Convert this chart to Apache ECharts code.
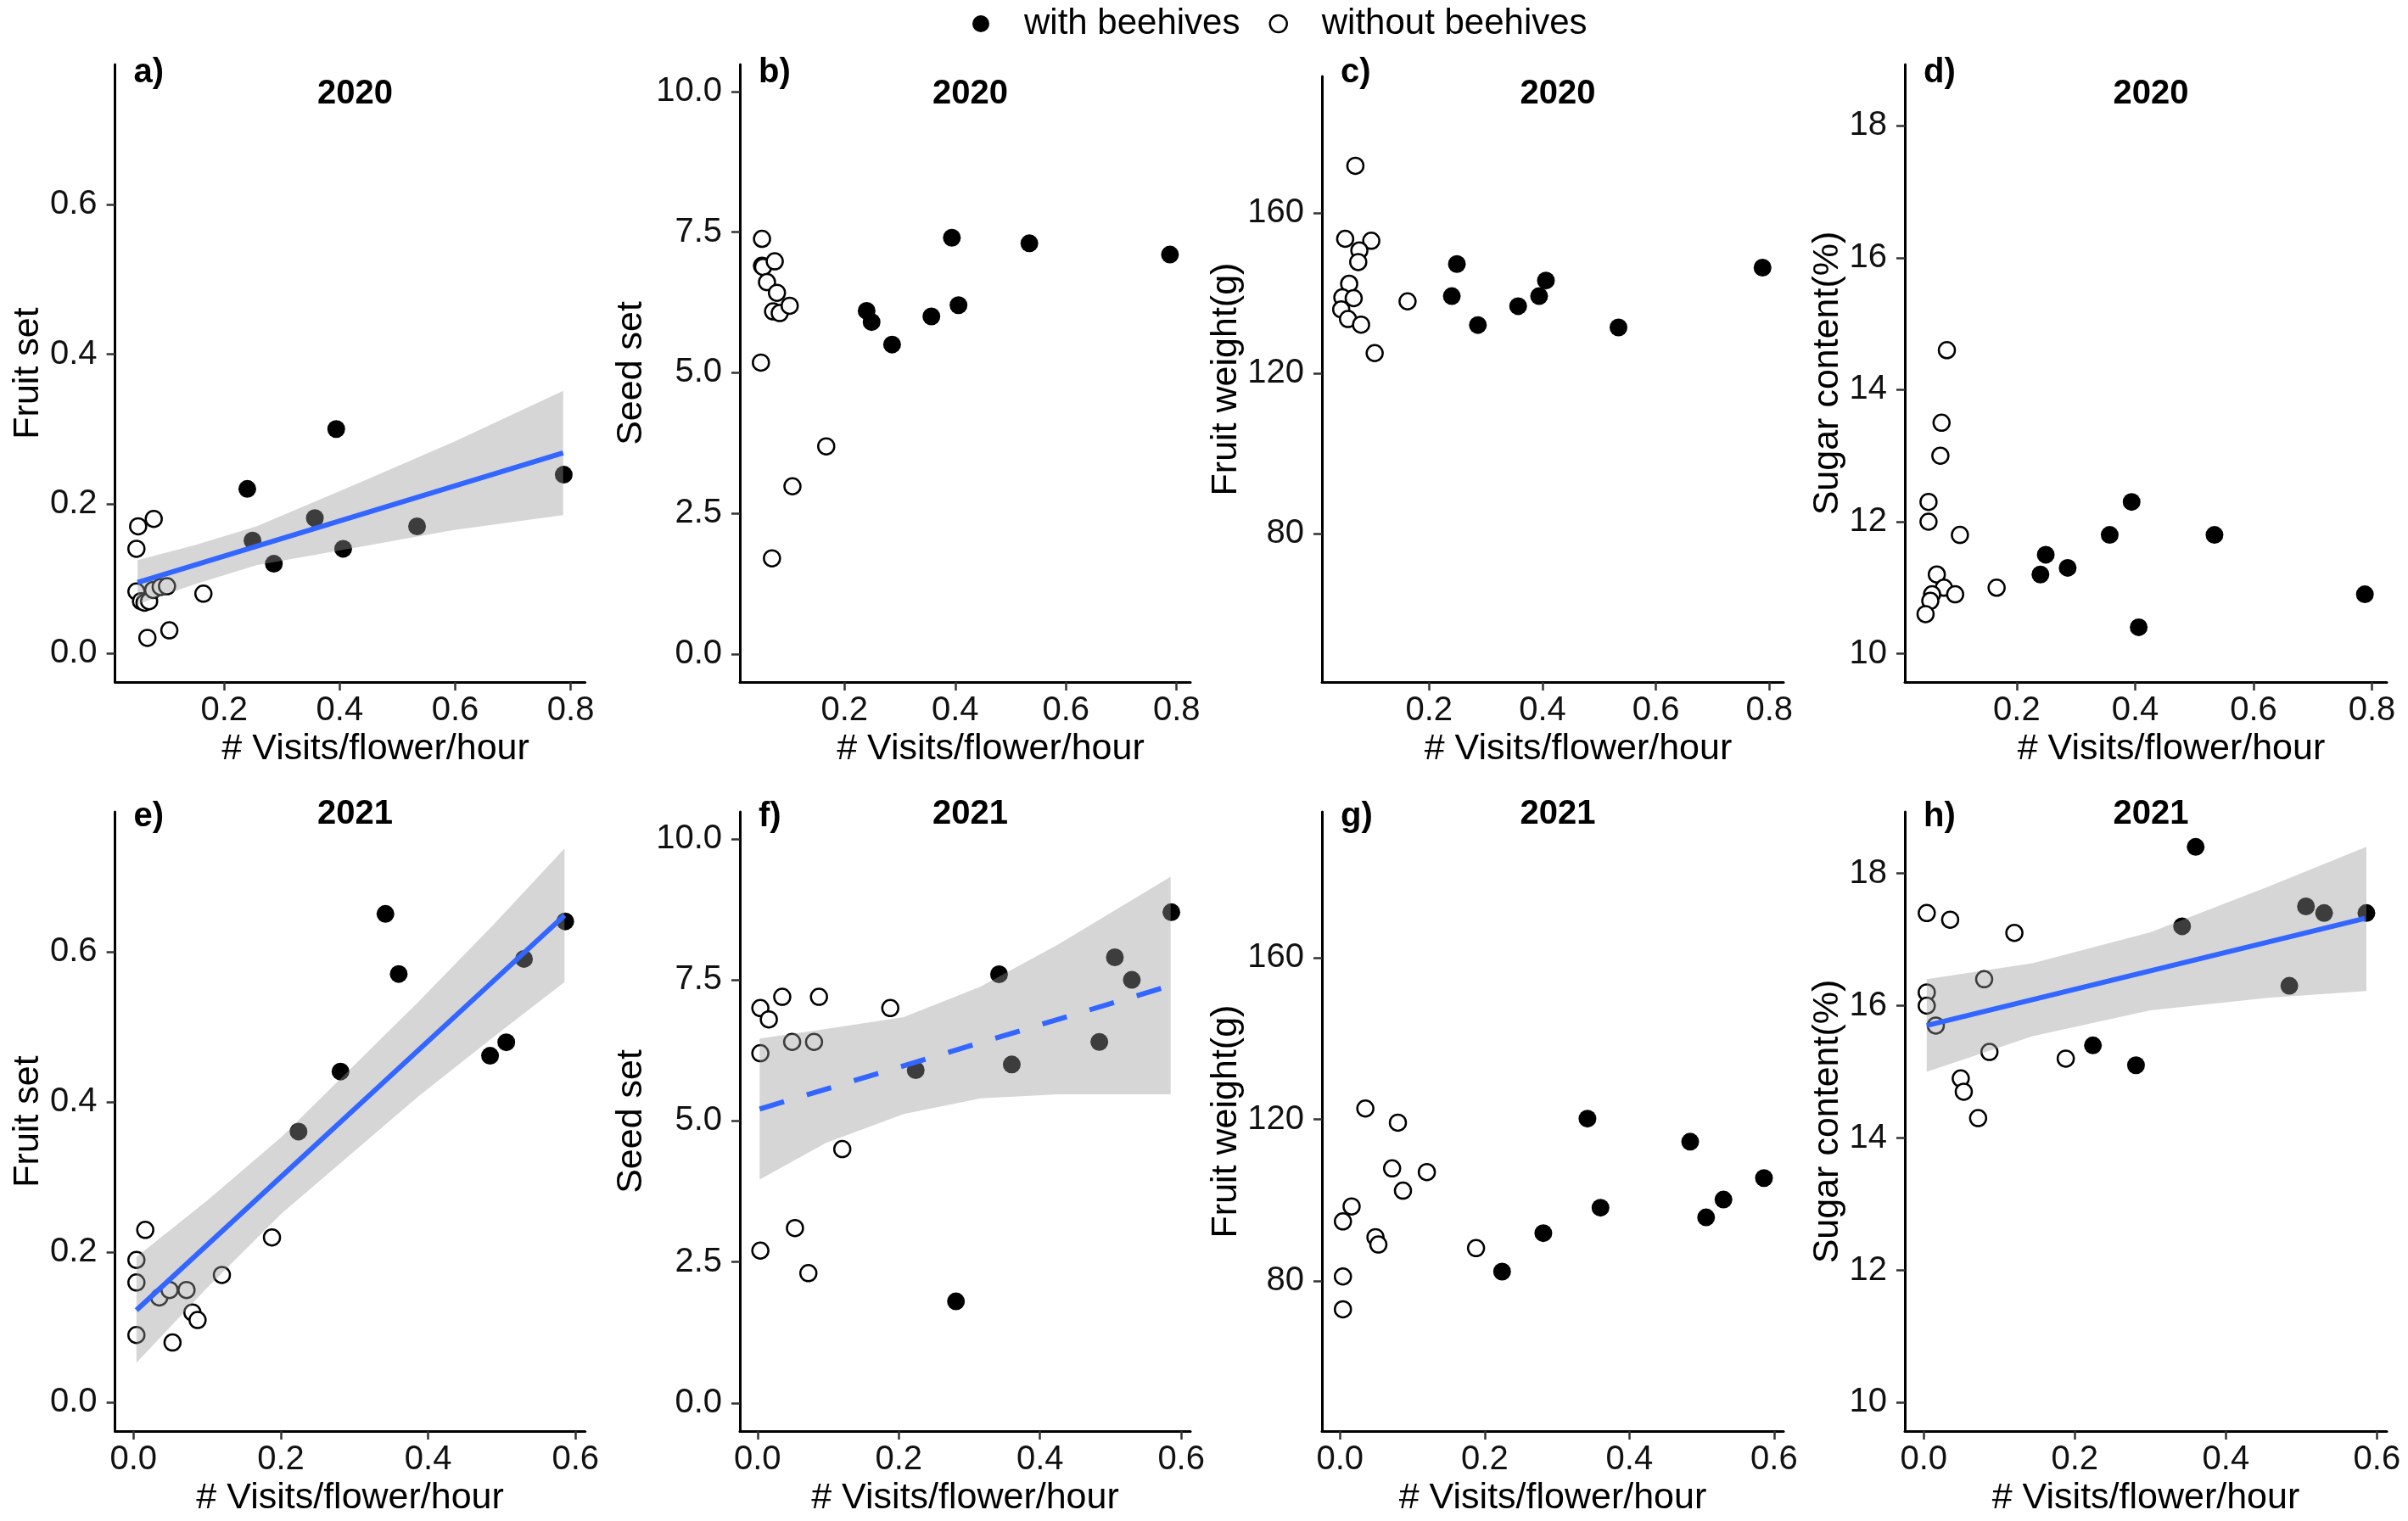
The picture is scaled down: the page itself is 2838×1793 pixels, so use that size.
<!DOCTYPE html>
<html>
<head>
<meta charset="utf-8">
<script src="https://cdn.jsdelivr.net/npm/echarts@6/dist/echarts.min.js"></script>
<style>
  html, body { margin: 0; padding: 0; background: #fff; }
  #chart { width: 2838px; height: 1793px; }
</style>
</head>
<body>
<div id="chart"></div>
<script>
// ---- data ----
// 2020, with beehives (same fields in every 2020 panel)
const withX2020 = [0.240, 0.249, 0.286, 0.357, 0.394, 0.406, 0.534, 0.788]
const fruitSetWith2020 = [0.220, 0.151, 0.120, 0.181, 0.300, 0.140, 0.170, 0.239]
const seedSetWith2020 = [6.1, 5.9, 5.5, 6.0, 7.4, 6.2, 7.3, 7.1]
const fruitWeightWith2020 = [139.2, 147.2, 132.0, 136.7, 139.2, 143.1, 131.4, 146.3]
const sugarWith2020 = [11.2, 11.5, 11.3, 11.8, 12.3, 10.4, 11.8, 10.9]

// 2020, without beehives (read per panel)
const fruitSetWithoutX2020 = [0.051, 0.078, 0.048, 0.164, 0.067, 0.105, 0.048, 0.056, 0.062, 0.070, 0.077, 0.090, 0.101]
const fruitSetWithout2020 = [0.170, 0.180, 0.140, 0.080, 0.021, 0.031, 0.083, 0.070, 0.068, 0.070, 0.085, 0.089, 0.090]
const seedSetWithoutX2020 = [0.051, 0.051, 0.053, 0.074, 0.060, 0.078, 0.071, 0.083, 0.101, 0.049, 0.167, 0.106, 0.069]
const seedSetWithout2020 = [7.38, 6.90, 6.88, 6.98, 6.61, 6.42, 6.09, 6.06, 6.19, 5.18, 3.69, 2.98, 1.70]
const fruitWeightWithoutX2020 = [0.070, 0.052, 0.098, 0.077, 0.075, 0.059, 0.047, 0.067, 0.045, 0.057, 0.080, 0.162, 0.104]
const fruitWeightWithout2020 = [171.7, 153.5, 153.0, 150.6, 147.7, 142.3, 138.9, 138.7, 135.9, 133.5, 132.1, 137.9, 125.0]
const sugarWithoutX2020 = [0.082, 0.073, 0.071, 0.051, 0.051, 0.104, 0.065, 0.077, 0.057, 0.054, 0.046, 0.096, 0.166]
const sugarWithout2020 = [14.6, 13.5, 13.0, 12.3, 12.0, 11.8, 11.2, 11.0, 10.9, 10.8, 10.6, 10.9, 11.0]

// 2021
const withX2021 = [0.224, 0.281, 0.342, 0.360, 0.484, 0.506, 0.530, 0.586]
const fruitSetWith2021 = [0.361, 0.441, 0.651, 0.571, 0.462, 0.480, 0.591, 0.641]
const seedSetWith2021 = [5.9, 1.8, 7.6, 6.0, 6.4, 7.9, 7.5, 8.7]
const fruitWeightWith2021 = [82.4, 91.9, 120.2, 98.2, 114.5, 95.8, 100.2, 105.5]
const sugarWith2021 = [15.4, 15.1, 17.2, 18.4, 16.3, 17.5, 17.4, 17.4]

const withoutX2021 = [0.004, 0.004, 0.004, 0.016, 0.035, 0.049, 0.053, 0.072, 0.080, 0.087, 0.120, 0.188]
const fruitSetWithout2021 = [0.19, 0.16, 0.09, 0.23, 0.14, 0.15, 0.08, 0.15, 0.12, 0.11, 0.17, 0.22]
const seedSetWithout2021 = [7.0, 6.2, 2.7, 6.8, 7.2, 6.4, 3.1, 2.3, 6.4, 7.2, 4.5, 7.0]
const fruitWeightWithout2021 = [94.8, 81.2, 73.1, 98.5, 122.7, 90.9, 89.1, 107.9, 119.2, 102.4, 107.0, 88.2]
const sugarWithout2021 = [17.4, 16.2, 16.0, 15.7, 17.3, 14.9, 14.7, 14.3, 16.4, 15.3, 17.1, 15.2]

// fitted lines and confidence bands
const fitLineXA = [0.05, 0.787], fitLineYA = [0.095, 0.268]
const bandXA = [0.05, 0.15, 0.256, 0.424, 0.598, 0.787]
const bandUpA = [0.125, 0.145, 0.170, 0.225, 0.283, 0.351]
const bandLoA = [0.066, 0.093, 0.118, 0.141, 0.165, 0.185]

const fitLineXE = [0.004, 0.585], fitLineYE = [0.123, 0.649]
const bandXE = [0.004, 0.1, 0.201, 0.387, 0.49, 0.585]
const bandUpE = [0.194, 0.269, 0.354, 0.534, 0.638, 0.738]
const bandLoE = [0.053, 0.153, 0.252, 0.408, 0.488, 0.560]

const fitLineXF = [0.003, 0.585], fitLineYF = [5.21, 7.40]
const bandXF = [0.003, 0.097, 0.207, 0.316, 0.426, 0.585]
const bandUpF = [6.46, 6.63, 6.84, 7.38, 8.13, 9.33]
const bandLoF = [3.96, 4.61, 5.12, 5.40, 5.47, 5.47]

const fitLineXH = [0.004, 0.584], fitLineYH = [15.70, 17.32]
const bandXH = [0.004, 0.144, 0.300, 0.456, 0.586]
const bandUpH = [16.40, 16.64, 17.11, 17.80, 18.40]
const bandLoH = [15.00, 15.54, 15.93, 16.12, 16.22]

// tick labels
const xTicks2020 = [0.2, 0.4, 0.6, 0.8]
const xTicks2021 = [0.0, 0.2, 0.4, 0.6]
const fruitSetTicks = [0.0, 0.2, 0.4, 0.6]
const seedSetTicks = [0.0, 2.5, 5.0, 7.5, 10.0]
const fruitWeightTicks = [80, 120, 160]
const sugarTicks = [10, 12, 14, 16, 18]

// ---- layout ----
const FONT = '"Liberation Sans", Arial, sans-serif'
const GRID_LEFT = [135.6, 872, 1558, 2245]
const GRID_WIDTH = [554, 531, 544, 568]
const GRID_TOP = [76, 76, 90, 76, 957, 957, 957, 957]
const GRID_BOTTOM = [804, 804, 804, 804, 1687, 1687, 1687, 1687]
const Y_NAME_GAP = [81, 106, 89, 65, 81, 106, 91, 66]
const TITLE_Y = [111, 960]
const LABEL_Y = [86, 963]

const pts = (xs, ys) => xs.map((x, k) => [x, ys[k]])

const panels = [
    { label: 'a)', year: '2020', yName: 'Fruit set', yRange: [-0.038, 0.787], yTicks: fruitSetTicks, dec: 1,
      withPts: pts(withX2020, fruitSetWith2020), withoutPts: pts(fruitSetWithoutX2020, fruitSetWithout2020),
      fit: { lx: fitLineXA, ly: fitLineYA, bx: bandXA, up: bandUpA, lo: bandLoA } },
    { label: 'b)', year: '2020', yName: 'Seed set', yRange: [-0.5, 10.48], yTicks: seedSetTicks, dec: 1,
      withPts: pts(withX2020, seedSetWith2020), withoutPts: pts(seedSetWithoutX2020, seedSetWithout2020) },
    { label: 'c)', year: '2020', yName: 'Fruit weight(g)', yRange: [43, 194], yTicks: fruitWeightTicks, dec: 0,
      withPts: pts(withX2020, fruitWeightWith2020), withoutPts: pts(fruitWeightWithoutX2020, fruitWeightWithout2020) },
    { label: 'd)', year: '2020', yName: 'Sugar content(%)', yRange: [9.57, 18.93], yTicks: sugarTicks, dec: 0,
      withPts: pts(withX2020, sugarWith2020), withoutPts: pts(sugarWithoutX2020, sugarWithout2020) },
    { label: 'e)', year: '2021', yName: 'Fruit set', yRange: [-0.038, 0.787], yTicks: fruitSetTicks, dec: 1,
      withPts: pts(withX2021, fruitSetWith2021), withoutPts: pts(withoutX2021, fruitSetWithout2021),
      fit: { lx: fitLineXE, ly: fitLineYE, bx: bandXE, up: bandUpE, lo: bandLoE } },
    { label: 'f)', year: '2021', yName: 'Seed set', yRange: [-0.5, 10.48], yTicks: seedSetTicks, dec: 1,
      withPts: pts(withX2021, seedSetWith2021), withoutPts: pts(withoutX2021, seedSetWithout2021),
      fit: { lx: fitLineXF, ly: fitLineYF, bx: bandXF, up: bandUpF, lo: bandLoF, dashed: true } },
    { label: 'g)', year: '2021', yName: 'Fruit weight(g)', yRange: [43, 196], yTicks: fruitWeightTicks, dec: 0,
      withPts: pts(withX2021, fruitWeightWith2021), withoutPts: pts(withoutX2021, fruitWeightWithout2021) },
    { label: 'h)', year: '2021', yName: 'Sugar content(%)', yRange: [9.57, 18.93], yTicks: sugarTicks, dec: 0,
      withPts: pts(withX2021, sugarWith2021), withoutPts: pts(withoutX2021, sugarWithout2021),
      fit: { lx: fitLineXH, ly: fitLineYH, bx: bandXH, up: bandUpH, lo: bandLoH } }
]

const axisLine = { show: true, onZero: false, lineStyle: { color: '#000', width: 3 } }
const tickStyle = { color: '#333', width: 2.5 }

let grids = [], xAxes = [], yAxes = [], series = [], graphics = []

panels.forEach((p, i) => {
    const col = i % 4, row = i < 4 ? 0 : 1
    const left = GRID_LEFT[col], width = GRID_WIDTH[col]
    grids.push({
        left: left, width: width, top: GRID_TOP[i], height: GRID_BOTTOM[i] - GRID_TOP[i],
        containLabel: false, outerBoundsMode: 'none'
    })
    const xTicks = row === 0 ? xTicks2020 : xTicks2021
    xAxes.push({
        type: 'value', gridIndex: i, position: 'bottom',
        min: row === 0 ? 0.011 : -0.025, max: row === 0 ? 0.825 : 0.613,
        axisLine: axisLine,
        axisTick: { show: true, length: 10, lineStyle: tickStyle, customValues: xTicks },
        axisLabel: { customValues: xTicks, formatter: v => v.toFixed(1), fontSize: 40, color: '#111', fontFamily: FONT, margin: 14 },
        splitLine: { show: false },
        name: '# Visits/flower/hour', nameLocation: 'middle', nameGap: 58,
        nameTextStyle: { fontSize: 43, color: '#000', fontFamily: FONT, padding: row === 0 ? [0, 0, 0, 60] : 0 }
    })
    yAxes.push({
        type: 'value', gridIndex: i, position: 'left',
        min: p.yRange[0], max: p.yRange[1],
        axisLine: axisLine,
        axisTick: { show: true, length: 10, lineStyle: tickStyle, customValues: p.yTicks },
        axisLabel: { customValues: p.yTicks, formatter: v => v.toFixed(p.dec), fontSize: 40, color: '#111', fontFamily: FONT, margin: 21 },
        splitLine: { show: false },
        name: p.yName, nameLocation: 'middle', nameRotate: 90, nameGap: Y_NAME_GAP[i],
        nameTextStyle: { fontSize: 43, color: '#000', fontFamily: FONT }
    })

    series.push({
        name: 'with beehives', type: 'scatter', xAxisIndex: i, yAxisIndex: i,
        data: p.withPts, symbol: 'circle', symbolSize: 21,
        itemStyle: { color: '#000', opacity: 1 }, z: 2, silent: true
    })
    series.push({
        name: 'without beehives', type: 'scatter', xAxisIndex: i, yAxisIndex: i,
        data: p.withoutPts, symbol: 'circle', symbolSize: 19,
        itemStyle: { color: '#fff', borderColor: '#000', borderWidth: 2.5, opacity: 1 }, z: 2, silent: true
    })

    if (p.fit) {
        const f = p.fit
        // confidence band drawn over the points, like geom_smooth
        series.push({
            type: 'custom', xAxisIndex: i, yAxisIndex: i, z: 3, silent: true,
            data: f.bx.map((x, k) => [x, f.lo[k], f.up[k]]),
            renderItem: function (params, api) {
                if (params.dataIndex !== 0) return null
                let poly = []
                for (let k = 0; k < f.bx.length; k++) poly.push(api.coord([f.bx[k], f.up[k]]))
                for (let k = f.bx.length - 1; k >= 0; k--) poly.push(api.coord([f.bx[k], f.lo[k]]))
                return { type: 'polygon', shape: { points: poly }, style: { fill: 'rgba(153,153,153,0.4)' } }
            }
        })
        series.push({
            type: 'line', xAxisIndex: i, yAxisIndex: i, z: 4, silent: true,
            data: pts(f.lx, f.ly), symbol: 'none',
            lineStyle: { color: '#3366FF', width: 6, type: f.dashed ? [30, 28] : 'solid' }
        })
    }

    graphics.push({
        type: 'text', z: 10, x: left + width / 2 + 6, y: TITLE_Y[row],
        style: { text: p.year, fontSize: 40, fontWeight: 'bold', fontFamily: FONT, fill: '#000', align: 'center', verticalAlign: 'middle' }
    })
    graphics.push({
        type: 'text', z: 10, x: left + 22, y: LABEL_Y[row],
        style: { text: p.label, fontSize: 40, fontWeight: 'bold', fontFamily: FONT, fill: '#000', align: 'left', verticalAlign: 'middle' }
    })
})

const option = {
    animation: false,
    backgroundColor: '#fff',
    textStyle: { fontFamily: FONT },
    legend: {
        left: 1141, top: 2, itemWidth: 20, itemHeight: 20, itemGap: 34,
        textStyle: { fontSize: 42, color: '#000', fontFamily: FONT, padding: [0, 0, 0, 36] },
        data: [
            { name: 'with beehives', icon: 'circle', itemStyle: { color: '#000', opacity: 1 } },
            { name: 'without beehives', icon: 'circle', itemStyle: { color: '#fff', borderColor: '#000', borderWidth: 2.5, opacity: 1 } }
        ]
    },
    grid: grids,
    xAxis: xAxes,
    yAxis: yAxes,
    series: series,
    graphic: graphics
}

let myChart = echarts.init(document.getElementById('chart'), null, { renderer: 'canvas' })
myChart.setOption(option)
</script>
</body>
</html>
